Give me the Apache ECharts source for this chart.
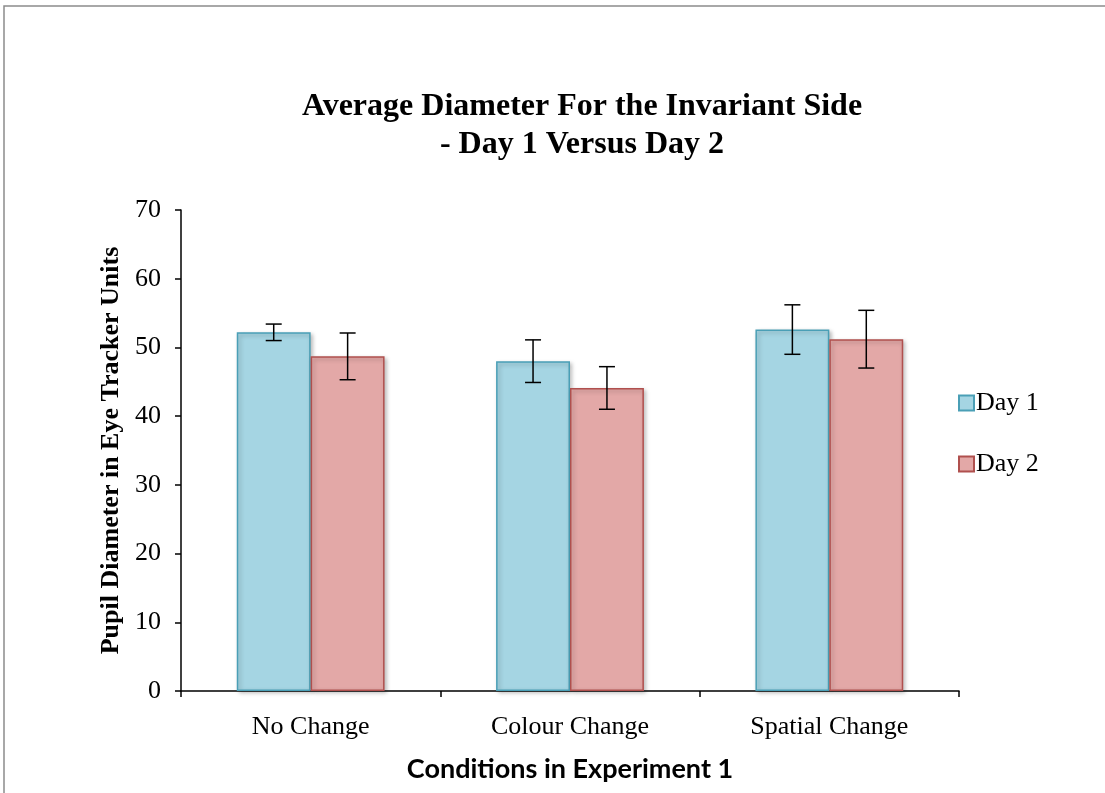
<!DOCTYPE html>
<html>
<head>
<meta charset="utf-8">
<script src="https://cdn.jsdelivr.net/npm/echarts@6/dist/echarts.min.js"></script>
<style>
html,body{margin:0;padding:0;background:#fff;}
#chart{width:1105px;height:793px;}
</style>
</head>
<body>
<div id="chart"></div>
<script>
var categories = ['No Change', 'Colour Change', 'Spatial Change'];
var seriesNames = ['Day 1', 'Day 2'];
var day1 = [52.2, 48.0, 52.6];
var day2 = [48.7, 44.1, 51.2];
var day1Err = [1.2, 3.1, 3.6];
var day2Err = [3.4, 3.1, 4.2];
var yTicks = [0, 10, 20, 30, 40, 50, 60, 70];

var chart = echarts.init(document.getElementById('chart'));
var serif = '"Liberation Serif", "Times New Roman", serif';
var gapFrac = 0.43;

function errSeries(values, errs, sideSign) {
  var data = values.map(function (v, i) { return [i, v - errs[i], v + errs[i]]; });
  return {
    type: 'custom',
    silent: true,
    z: 10,
    data: data,
    renderItem: function (params, api) {
      var idx = api.value(0);
      var band = api.size([1, 0])[0];
      var barW = band * (1 - gapFrac) / 2;
      var lo = api.coord([idx, api.value(1)]);
      var hi = api.coord([idx, api.value(2)]);
      var x = lo[0] + sideSign * barW / 2;
      var cap = 8;
      var st = { stroke: '#000', lineWidth: 1.5 };
      return {
        type: 'group',
        children: [
          { type: 'line', shape: { x1: x, y1: lo[1], x2: x, y2: hi[1] }, style: st },
          { type: 'line', shape: { x1: x - cap, y1: lo[1], x2: x + cap, y2: lo[1] }, style: st },
          { type: 'line', shape: { x1: x - cap, y1: hi[1], x2: x + cap, y2: hi[1] }, style: st }
        ]
      };
    }
  };
}

chart.setOption({
  animation: false,
  title: {
    text: 'Average Diameter For the Invariant Side\n- Day 1 Versus Day 2',
    left: 577, top: 83, textAlign: 'center',
    textStyle: { fontFamily: serif, fontWeight: 'bold', fontSize: 32, lineHeight: 38, color: '#000' }
  },
  legend: {
    orient: 'vertical',
    left: 953, top: 385,
    itemWidth: 15, itemHeight: 15, itemGap: 35,
    icon: 'rect',
    data: seriesNames,
    textStyle: { fontFamily: serif, fontSize: 26, color: '#000', padding: [0, 0, 0, -3] }
  },
  grid: { left: 181, right: 146, top: 210, bottom: 102 },
  xAxis: {
    type: 'category',
    data: categories,
    name: 'Conditions in Experiment 1',
    nameLocation: 'middle',
    nameGap: 65,
    nameTextStyle: { fontFamily: 'Lato, "Open Sans", sans-serif', fontWeight: 'bold', fontSize: 27, color: '#000' },
    axisLine: { lineStyle: { color: '#000', width: 1.5 } },
    axisTick: { show: true, length: 6, lineStyle: { color: '#000', width: 1.5 } },
    axisLabel: { fontFamily: serif, fontSize: 26, color: '#000', margin: 23 }
  },
  yAxis: {
    type: 'value',
    min: 0, max: 70, interval: 10,
    name: 'Pupil Diameter in Eye Tracker Units',
    nameLocation: 'middle',
    nameGap: 56,
    nameTextStyle: { fontFamily: serif, fontWeight: 'bold', fontSize: 26, color: '#000' },
    axisLine: { show: true, lineStyle: { color: '#000', width: 1.5 } },
    axisTick: { show: true, length: 6, lineStyle: { color: '#000', width: 1.5 } },
    splitLine: { show: false },
    axisLabel: {
      fontFamily: serif, fontSize: 26, color: '#000', margin: 20,
      formatter: function (v) { return yTicks.indexOf(v) >= 0 ? String(v) : ''; }
    }
  },
  graphic: [{
    type: 'polyline',
    shape: { points: [[4, 793], [4, 6], [1105, 6]] },
    style: { stroke: '#8c8c8c', lineWidth: 1.5, fill: null }
  }],
  series: [
    {
      name: seriesNames[0], type: 'bar', data: day1,
      barGap: '0%', barCategoryGap: (gapFrac * 100) + '%',
      itemStyle: { color: '#A5D5E3', borderColor: '#4A9FB6', borderWidth: 1.5,
        shadowBlur: 4, shadowColor: 'rgba(0,0,0,0.25)', shadowOffsetX: 2, shadowOffsetY: 2 }
    },
    {
      name: seriesNames[1], type: 'bar', data: day2,
      barGap: '0%', barCategoryGap: (gapFrac * 100) + '%',
      itemStyle: { color: '#E3A8A7', borderColor: '#B0504E', borderWidth: 1.5,
        shadowBlur: 4, shadowColor: 'rgba(0,0,0,0.25)', shadowOffsetX: 2, shadowOffsetY: 2 }
    },
    errSeries(day1, day1Err, -1),
    errSeries(day2, day2Err, 1)
  ]
});
</script>
</body>
</html>
